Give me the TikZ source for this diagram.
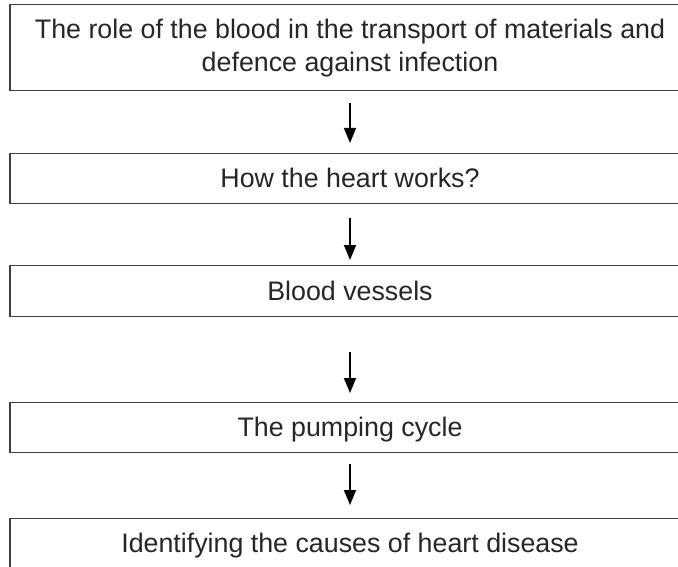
\documentclass[tikz,border=0pt]{standalone}
\usepackage{fontspec}
\setmainfont{Liberation Sans}
\usetikzlibrary{arrows.meta}
\begin{document}
\begin{tikzpicture}[x=1pt,y=-1pt,
  stagebox/.style={draw=black!75, line width=1.4pt, minimum width=680pt, inner sep=0pt,
    font=\fontsize{26.8}{33}\selectfont, text=black!85, align=center, anchor=north},
  oneline/.style={text height=19pt, text depth=1pt},
  flow/.style={-{Triangle[length=15pt,width=12pt]}, line width=1.6pt, black}]
\clip (0,0) rectangle (678,567);
\node[stagebox, minimum height=86pt] (b1) at (350,4) {The role of the blood in the transport of materials and\\defence against infection};
\node[stagebox, oneline, minimum height=50pt] (b2) at (350,153) {How the heart works?};
\node[stagebox, oneline, minimum height=51pt] (b3) at (350,265) {Blood vessels};
\node[stagebox, oneline, minimum height=50pt] (b4) at (350,402) {The pumping cycle};
\node[stagebox, oneline, minimum height=50pt] (b5) at (350,518) {Identifying the causes of heart disease};
\draw[flow] ([yshift=-12pt]b1.south) -- ([yshift=10pt]b2.north);
\draw[flow] ([yshift=-14pt]b2.south) -- ([yshift=5pt]b3.north);
\draw[flow] ([yshift=-35pt]b3.south) -- ([yshift=9pt]b4.north);
\draw[flow] ([yshift=-11pt]b4.south) -- ([yshift=13pt]b5.north);
\end{tikzpicture}
\end{document}
